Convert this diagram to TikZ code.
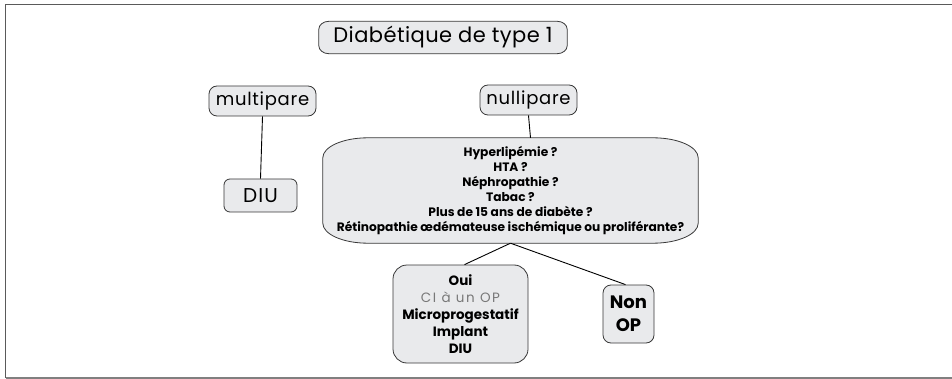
\documentclass[tikz,border=0pt]{standalone}
\usepackage{fontspec}
\setmainfont{Poppins}[Ligatures={NoCommon}]
\usetikzlibrary{calc}
\definecolor{boxgray}{RGB}{233,234,236}
\definecolor{edgegray}{RGB}{55,55,55}
\definecolor{framegray}{RGB}{90,90,90}
\definecolor{softtext}{RGB}{120,120,120}
\begin{document}
\begin{tikzpicture}[x=1pt,y=-1pt,
  rbox/.style={draw=edgegray, fill=boxgray, line width=0.8pt, rounded corners=#1, align=center, inner sep=2pt},
  rbox/.default=8pt,
  plainbox/.style={align=center, inner sep=0pt},
  oshape/.style={draw=edgegray, fill=boxgray, line width=0.8pt},
  link/.style={draw=black, line width=0.9pt},
  frameline/.style={draw=framegray, line width=1.6pt}
]
\useasboundingbox (0,0) rectangle (952,379);
\clip (0,0) rectangle (952,379);
% frame
\draw[frameline] (5.5,378) -- (5.5,4.5) -- (960,4.5);
\draw[draw=gray, line width=1.4pt] (5.5,378) -- (960,378);

% title box (elliptical corners)
\node[plainbox, minimum width=248pt, minimum height=32pt] (title) at (443,37.5) {};
\draw[oshape] ([xshift=10pt]title.north west) -- ([xshift=-10pt]title.north east)
  arc[start angle=90, end angle=0, x radius=10pt, y radius=8pt]
  -- ([yshift=8pt]title.south east)
  arc[start angle=0, end angle=-90, x radius=10pt, y radius=8pt]
  -- ([xshift=10pt]title.south west)
  arc[start angle=270, end angle=180, x radius=10pt, y radius=8pt]
  -- ([yshift=-8pt]title.north west)
  arc[start angle=180, end angle=90, x radius=10pt, y radius=8pt] -- cycle;
\node[plainbox, font=\fontsize{21}{25}\selectfont\addfontfeatures{LetterSpace=2}] at (title) {Diabétique de type 1};

\node[rbox, minimum width=107pt, minimum height=30pt, font=\fontsize{18}{21}\selectfont\addfontfeatures{LetterSpace=4}] (multi) at (262.5,101) {multipare};
\node[rbox, minimum width=97pt, minimum height=30pt, font=\fontsize{18}{21}\selectfont\addfontfeatures{LetterSpace=4}] (nulli) at (528.5,100) {nullipare};
\node[rbox=6pt, minimum width=73pt, minimum height=33pt, font=\fontsize{20}{24}\selectfont\addfontfeatures{LetterSpace=5}] (diu) at (260.5,195.5) {DIU};

% big question box
\node[plainbox, minimum width=375pt, minimum height=105pt] (big) at (510.5,190.5) {};
\draw[oshape] ([xshift=45pt]big.north west) -- ([xshift=-45pt]big.north east)
  arc[start angle=90, end angle=0, x radius=45pt, y radius=20pt]
  -- ([yshift=20pt]big.south east)
  arc[start angle=0, end angle=-90, x radius=45pt, y radius=20pt]
  -- ([xshift=45pt]big.south west)
  arc[start angle=270, end angle=180, x radius=45pt, y radius=20pt]
  -- ([yshift=-20pt]big.north west)
  arc[start angle=180, end angle=90, x radius=45pt, y radius=20pt] -- cycle;
\node[plainbox, font=\bfseries\fontsize{12.2}{15}\selectfont] at (big) {Hyperlipémie ?\\HTA ?\\Néphropathie ?\\Tabac ?\\Plus de 15 ans de diabète ?\\Rétinopathie œdémateuse ischémique ou proliférante?};

\node[rbox=14pt, minimum width=135pt, minimum height=98pt, font=\bfseries\fontsize{13.5}{17}\selectfont] (oui) at (460.5,314)
  {Oui\\{\color{softtext}\mdseries\addfontfeatures{LetterSpace=12}CI à un OP}\\Microprogestatif\\Implant\\DIU};
\node[rbox, minimum width=51pt, minimum height=58pt, font=\bfseries\fontsize{18}{23}\selectfont] (nonop) at (628.5,314) {Non\\OP};

% connectors
\draw[link] (multi.south) -- (diu.north);
\draw[link] (nulli.south) -- ([xshift=20pt]big.north);
\draw[link] (big.south) -- ([xshift=4pt]oui.north);
\draw[link] (big.south) -- ([xshift=-3pt]nonop.north);
\end{tikzpicture}
\end{document}
